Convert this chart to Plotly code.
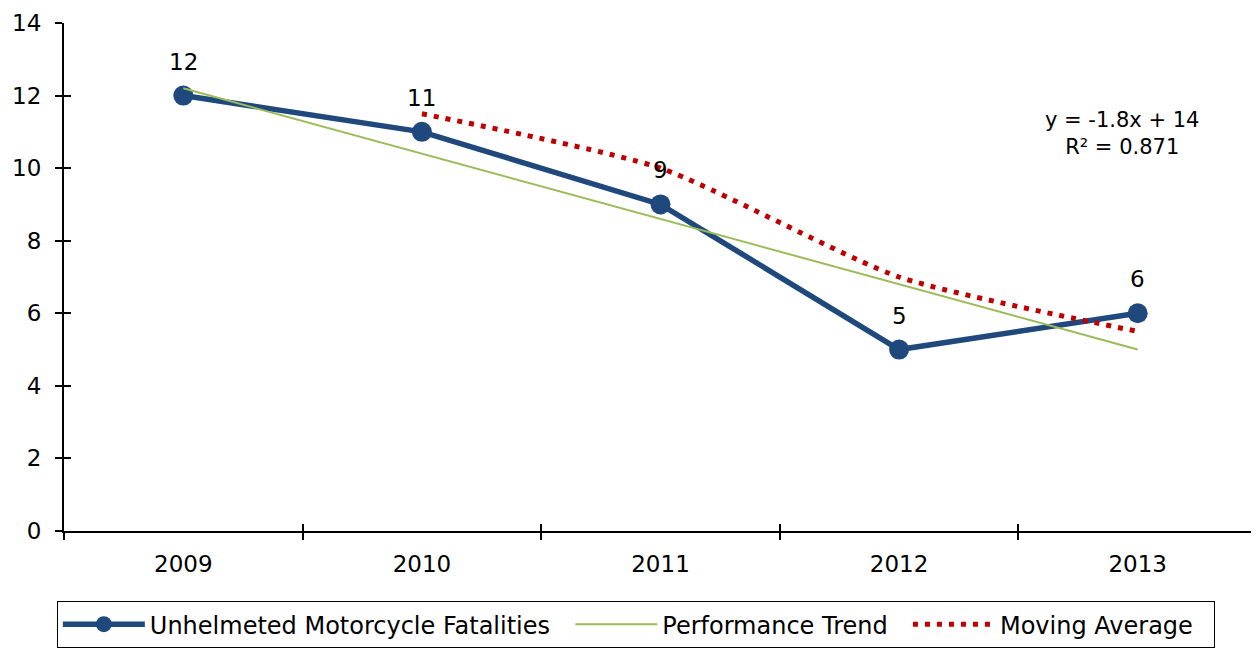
import numpy as np
import plotly.graph_objects as go

years = ["2009", "2010", "2011", "2012", "2013"]
fatalities = [12, 11, 9, 5, 6]
y_ticks = [0, 2, 4, 6, 8, 10, 12, 14]

xi = np.arange(1, len(years) + 1)
slope, intercept = np.polyfit(xi, fatalities, 1)
trend = slope * xi + intercept
r2 = 1 - np.sum((np.array(fatalities) - trend) ** 2) / np.sum((np.array(fatalities) - np.mean(fatalities)) ** 2)
mov_avg = [(fatalities[i - 1] + fatalities[i]) / 2 for i in range(1, len(fatalities))]

FONT = "Verdana, DejaVu Sans, sans-serif"
BLUE = "#1F497D"
GREEN = "#9BBB59"
RED = "#C00000"
FS = 23
NB = "\u00a0"

fig = go.Figure()
fig.add_trace(go.Scatter(
    x=xi, y=fatalities, mode="lines+markers", name="Unhelmeted Motorcycle Fatalities" + NB * 2,
    line=dict(color=BLUE, width=5.5), marker=dict(size=20, color=BLUE)))
fig.add_trace(go.Scatter(
    x=xi, y=trend, mode="lines", name="Performance Trend" + NB * 2,
    line=dict(color=GREEN, width=2)))
fig.add_trace(go.Scatter(
    x=xi[1:], y=mov_avg, mode="lines", name="Moving Average" + NB * 2,
    line=dict(color=RED, width=5, dash="5px,7px", shape="spline", smoothing=0.6)))
# helper trace to anchor the inside-tick overlay axes
fig.add_trace(go.Scatter(
    x=xi, y=fatalities, mode="lines", line=dict(color="rgba(0,0,0,0)"),
    showlegend=False, hoverinfo="skip", xaxis="x2", yaxis="y2"))

for xv, yv in zip(xi, fatalities):
    fig.add_annotation(x=xv, y=yv, text=str(yv), showarrow=False, yshift=34,
                       font=dict(family=FONT, size=FS, color="black"))

fig.add_annotation(xref="paper", yref="paper", x=0.887, y=0.783,
                   xanchor="center", yanchor="middle",
                   text=f"y = {slope:.1f}x + {intercept:.0f}<br>R² = {r2:.3f}",
                   showarrow=False, align="center",
                   font=dict(family=FONT, size=21, color="black"))

minor_ticks = [0.5, 1.5, 2.5, 3.5, 4.5, 5.5]
fig.update_layout(
    width=1251, height=642,
    margin=dict(l=56, r=2, t=8, b=110),
    paper_bgcolor="white", plot_bgcolor="white",
    font=dict(family=FONT, size=FS, color="black"),
    xaxis=dict(range=[0.5, 5.5], tickvals=list(xi), ticktext=years, ticks="outside",
               ticklen=0, showline=True, linecolor="black", linewidth=2,
               showgrid=False, zeroline=False, ticklabelstandoff=11,
               minor=dict(tickvals=minor_ticks, ticks="outside",
                          ticklen=7, tickcolor="black", tickwidth=2, showgrid=False),
               tickfont=dict(size=FS)),
    yaxis=dict(range=[0, 14], tickvals=y_ticks, ticks="outside", ticklen=7,
               tickcolor="black", tickwidth=2, showline=True, linecolor="black",
               linewidth=2, showgrid=False, zeroline=False, ticklabelstandoff=9,
               ticklabeloverflow="allow", tickfont=dict(size=FS)),
    xaxis2=dict(overlaying="x", range=[0.5, 5.5], tickvals=minor_ticks,
                ticks="inside", ticklen=7, tickcolor="black", tickwidth=2,
                showticklabels=False, showline=False, showgrid=False, zeroline=False,
                side="bottom", anchor="y2"),
    yaxis2=dict(overlaying="y", range=[0, 14], tickvals=y_ticks, ticks="inside",
                ticklen=7, tickcolor="black", tickwidth=2, showticklabels=False,
                showline=False, showgrid=False, zeroline=False, side="left", anchor="x2"),
    legend=dict(orientation="h", x=-0.006, y=-0.138, xanchor="left", yanchor="top",
                bordercolor="black", borderwidth=1, font=dict(size=24),
                itemwidth=82, tracegroupgap=0),
    showlegend=True,
)

fig.write_html("out.html")
